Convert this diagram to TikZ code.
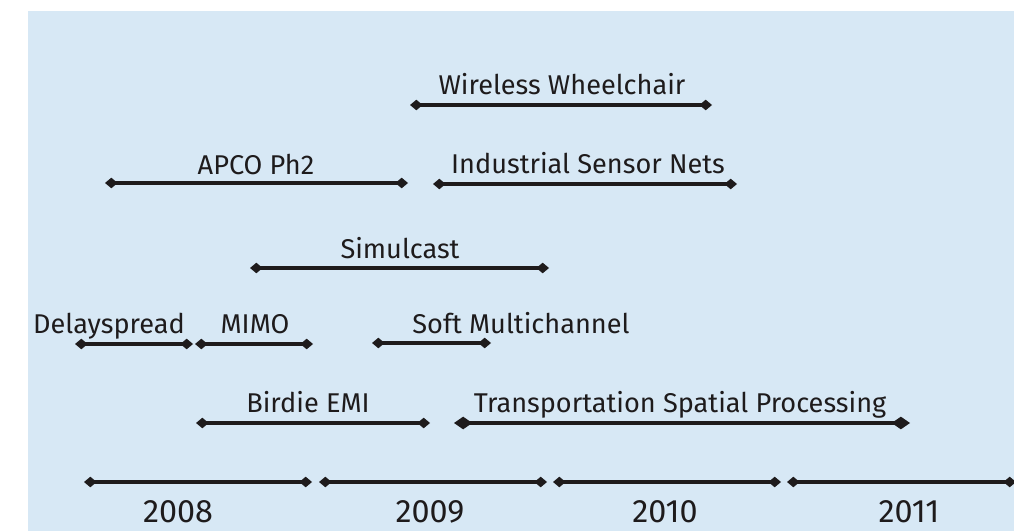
\documentclass[tikz,border=0pt]{standalone}
\usepackage{fontspec}
\setmainfont{Fira Sans}
\usetikzlibrary{arrows.meta}
\definecolor{paneblue}{HTML}{D7E8F5}
\definecolor{inkgray}{HTML}{1E1B1C}
\tikzset{
  span/.style={line width=3.1pt, draw=inkgray, {Diamond[length=9pt,width=7.5pt]}-{Diamond[length=9pt,width=7.5pt]}},
  bigspan/.style={line width=3.1pt, draw=inkgray, {Diamond[length=13pt,width=9pt]}-{Diamond[length=13pt,width=9pt]}},
  lbl/.style={anchor=base, text=inkgray, inner sep=0pt, font=\fontsize{19.3}{22}\selectfont},
  yearlbl/.style={lbl, font=\fontsize{23}{26}\selectfont},
}
\begin{document}
\begin{tikzpicture}[x=0.025cm,y=-0.025cm]
\useasboundingbox (0,0) rectangle (1014,531);
\fill[paneblue] (28,11) rectangle (1014,531);

\coordinate (wheel-l) at (410,105);
\coordinate (wheel-r) at (712,105);
\coordinate (apco-l) at (105,183);
\coordinate (apco-r) at (408,183);
\coordinate (isn-l) at (433,184);
\coordinate (isn-r) at (737,184);
\coordinate (simul-l) at (250,268);
\coordinate (simul-r) at (549,268);
\coordinate (delay-l) at (75,344);
\coordinate (delay-r) at (193,344);
\coordinate (mimo-l) at (195,344);
\coordinate (mimo-r) at (313,344);
\coordinate (soft-l) at (372,343);
\coordinate (soft-r) at (491,343);
\coordinate (birdie-l) at (196,423);
\coordinate (birdie-r) at (430,423);
\coordinate (tsp-l) at (454,423);
\coordinate (tsp-r) at (910,423);
\coordinate (y08-l) at (84,482);
\coordinate (y08-r) at (312,482);
\coordinate (y09-l) at (319,482);
\coordinate (y09-r) at (547,482);
\coordinate (y10-l) at (553,482);
\coordinate (y10-r) at (781,482);
\coordinate (y11-l) at (787,482);
\coordinate (y11-r) at (1016,482);

\draw[span] (wheel-l) -- (wheel-r);
\draw[span] (apco-l) -- (apco-r);
\draw[span] (isn-l) -- (isn-r);
\draw[span] (simul-l) -- (simul-r);
\draw[span] (delay-l) -- (delay-r);
\draw[span] (mimo-l) -- (mimo-r);
\draw[span] (soft-l) -- (soft-r);
\draw[span] (birdie-l) -- (birdie-r);
\draw[bigspan] (tsp-l) -- (tsp-r);
\draw[span] (y08-l) -- (y08-r);
\draw[span] (y09-l) -- (y09-r);
\draw[span] (y10-l) -- (y10-r);
\draw[span] (y11-l) -- (y11-r);

\node[lbl] (wheel) at (562,95) {Wireless Wheelchair};
\node[lbl] (apco) at (256,175) {APCO Ph2};
\node[lbl] (isn) at (588,174) {Industrial Sensor Nets};
\node[lbl] (simul) at (400,259) {Simulcast};
\node[lbl] (delay) at (109,333) {Delayspread};
\node[lbl] (mimo) at (255,333) {MIMO};
\node[lbl] (soft) at (521,333) {Soft Multichannel};
\node[lbl] (birdie) at (308,412) {Birdie EMI};
\node[lbl] (tsp) at (680,412) {Transportation Spatial Processing};
\node[yearlbl] (y08) at (178,522) {2008};
\node[yearlbl] (y09) at (430,522) {2009};
\node[yearlbl] (y10) at (665,522) {2010};
\node[yearlbl] (y11) at (909,522) {2011};
\end{tikzpicture}
\end{document}
